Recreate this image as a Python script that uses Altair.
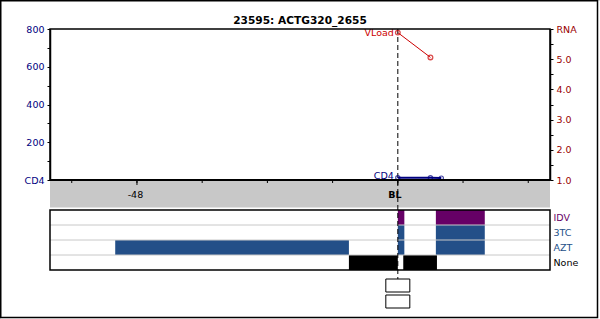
import altair as alt
import pandas as pd

# ---------------- data ----------------
TITLE = "23595: ACTG320_2655"
X_DOMAIN = [-64, 28]
X_TICKS = [-60, -48, -36, -24, -12, 0, 12, 24]
X_TICK_VALUES_LABELED = [-48, 0]
X_TICK_TEXT = ["-48", "BL"]
BASELINE = 0

CD4_WEEK = [0, 6, 8]
CD4_VALUE = [12, 12, 10]
CD4_NAME = "CD4"

RNA_WEEK = [0, 6]
RNA_VALUE = [5.88, 5.06]
RNA_NAME = "VLoad"

CD4_TICKS = [0, 100, 200, 300, 400, 500, 600, 700, 800]
RNA_TICKS = [1.0, 1.5, 2.0, 2.5, 3.0, 3.5, 4.0, 4.5, 5.0, 5.5, 6.0]

DRUGS = ["IDV", "3TC", "AZT", "None"]
DRUG_COLORS = ["#660066", "#234f88", "#234f88", "#000000"]
DRUG_LABEL_COLORS = ["#660066", "#234f88", "#234f88", "#000000"]

SEG_DRUG = ["AZT", "None", "IDV", "3TC", "AZT", "None", "IDV", "3TC", "AZT"]
SEG_START = [-52, -9, 0, 0, 0, 1.0, 7, 7, 7]
SEG_END = [-9, 0, 1.2, 1.2, 1.2, 7.2, 16, 16, 16]

BOXES = ["1", "2"]

# ---------------- layout (pixels) ----------------
W, H = 600, 319
PX_LEFT, PX_RIGHT = 50, 550
TOP_Y0, TOP_Y1 = 29, 180
BAND_Y1 = 207.5
DRUG_Y0, DRUG_Y1 = 210, 270
BOX_Y0, BOX_Y1 = 279, 308
FONT = "DejaVu Sans"
FS = 9.5

NAVY = "#000080"
DARKRED = "#990000"
RED = "#cc0000"

xs = alt.Scale(domain=X_DOMAIN, range=[PX_LEFT, PX_RIGHT])

# ---------------- frames / decorations ----------------
one = pd.DataFrame({"k": [0]})

outer = alt.Chart(one).mark_rect(fill=None, stroke="black", strokeWidth=1.5).encode(
    x=alt.value(0.75), x2=alt.value(597.5), y=alt.value(0.75), y2=alt.value(317.5)
)
band = alt.Chart(one).mark_rect(fill="#c8c8c8").encode(
    x=alt.value(PX_LEFT), x2=alt.value(PX_RIGHT), y=alt.value(TOP_Y1), y2=alt.value(BAND_Y1)
)
drug_bg = alt.Chart(one).mark_rect(fill="white").encode(
    x=alt.value(PX_LEFT), x2=alt.value(PX_RIGHT), y=alt.value(DRUG_Y0), y2=alt.value(DRUG_Y1)
)
drug_frame = alt.Chart(one).mark_rect(fill=None, stroke="black", strokeWidth=1.5).encode(
    x=alt.value(PX_LEFT), x2=alt.value(PX_RIGHT), y=alt.value(DRUG_Y0), y2=alt.value(DRUG_Y1)
)
top_frame = alt.Chart(one).mark_rect(fill=None, stroke="black", strokeWidth=1.5).encode(
    x=alt.value(PX_LEFT), x2=alt.value(PX_RIGHT), y=alt.value(TOP_Y0), y2=alt.value(TOP_Y1)
)

# ---------------- x axis (ticks & labels drawn through the x scale) ----------------
dom_df = pd.DataFrame({"a": [X_DOMAIN[0]], "b": [X_DOMAIN[1]]})
x_domain_line = alt.Chart(dom_df).mark_rule(color="black", strokeWidth=2).encode(
    x=alt.X("a:Q", scale=xs, axis=None), x2="b:Q", y=alt.value(TOP_Y1)
)
tick_df = pd.DataFrame({"t": X_TICKS})
x_ticks = alt.Chart(tick_df).mark_rule(color="black", strokeWidth=1).encode(
    x=alt.X("t:Q", scale=xs, axis=None), y=alt.value(TOP_Y1), y2=alt.value(TOP_Y1 + 3)
)
lab_df = pd.DataFrame({"t": X_TICK_VALUES_LABELED, "txt": X_TICK_TEXT})
x_major = alt.Chart(lab_df).mark_rule(color="black", strokeWidth=1).encode(
    x=alt.X("t:Q", scale=xs, axis=None), y=alt.value(TOP_Y1), y2=alt.value(TOP_Y1 + 5)
)
x_labels = alt.Chart(lab_df).transform_filter(alt.datum.t != BASELINE).mark_text(
    baseline="middle", align="center", dx=-1.5, font=FONT, fontSize=FS, color="black"
).encode(
    x=alt.X("t:Q", scale=xs, axis=None), y=alt.value(194.5), text="txt:N",
)
x_label_bl = alt.Chart(lab_df).transform_filter(alt.datum.t == BASELINE).mark_text(
    baseline="middle", align="center", dx=-3, font=FONT, fontSize=FS, fontWeight="bold", color="black"
).encode(
    x=alt.X("t:Q", scale=xs, axis=None), y=alt.value(194.5), text="txt:N",
)

# ---------------- CD4 ----------------
cd4_df = pd.DataFrame({"week": CD4_WEEK, "cd4": CD4_VALUE})
cd4_lab = pd.DataFrame({"week": [CD4_WEEK[0]], "cd4": [CD4_VALUE[0]], "name": [CD4_NAME]})
cd4_scale = alt.Scale(domain=[CD4_TICKS[0], CD4_TICKS[-1]], range=[TOP_Y1, TOP_Y0])
cd4_axis = alt.Axis(
    orient="left", offset=-PX_LEFT, values=CD4_TICKS,
    labelExpr="datum.value == 0 ? 'CD4' : (datum.value % 200 == 0 ? datum.label : '')",
    title=None, grid=False, domainColor="black", domainWidth=1.5, tickColor="black",
    tickSize=3, labelPadding=3, labelFont=FONT, labelFontSize=FS, labelColor=NAVY,
    labelFlush=False, labelOverlap=False, zindex=1,
)
cd4_line = alt.Chart(cd4_df).mark_line(color=NAVY, strokeWidth=2).encode(
    x=alt.X("week:Q", scale=xs, axis=None),
    y=alt.Y("cd4:Q", scale=cd4_scale, axis=cd4_axis),
)
cd4_pts = alt.Chart(cd4_df).mark_point(shape="circle", filled=False, color=NAVY, size=18, strokeWidth=1.2).encode(
    x=alt.X("week:Q", scale=xs, axis=None),
    y=alt.Y("cd4:Q", scale=cd4_scale, axis=None),
)
cd4_txt = alt.Chart(cd4_lab).mark_text(align="right", baseline="middle", dx=-4, dy=-2, font=FONT, fontSize=FS, color=NAVY).encode(
    x=alt.X("week:Q", scale=xs, axis=None),
    y=alt.Y("cd4:Q", scale=cd4_scale, axis=None),
    text="name:N",
)

# ---------------- RNA ----------------
rna_df = pd.DataFrame({"week": RNA_WEEK, "rna": RNA_VALUE})
rna_lab = pd.DataFrame({"week": [RNA_WEEK[0]], "rna": [RNA_VALUE[0]], "name": [RNA_NAME]})
rna_scale = alt.Scale(domain=[RNA_TICKS[0], RNA_TICKS[-1]], range=[TOP_Y1, TOP_Y0])
rna_axis = alt.Axis(
    orient="right", offset=-(W - PX_RIGHT), values=RNA_TICKS,
    labelExpr="datum.value == 6 ? 'RNA' : (datum.value % 1 == 0 ? format(datum.value, '.1f') : '')",
    title=None, grid=False, domainColor="black", domainWidth=1.5, tickColor="black",
    tickSize=3, labelPadding=3, labelFont=FONT, labelFontSize=FS, labelColor=DARKRED,
    labelFlush=False, labelOverlap=False, zindex=1,
)
rna_line = alt.Chart(rna_df).mark_line(color=RED, strokeWidth=1).encode(
    x=alt.X("week:Q", scale=xs, axis=None),
    y=alt.Y("rna:Q", scale=rna_scale, axis=rna_axis),
)
rna_pts = alt.Chart(rna_df).mark_point(shape="circle", filled=False, color=RED, size=22, strokeWidth=1.3).encode(
    x=alt.X("week:Q", scale=xs, axis=None),
    y=alt.Y("rna:Q", scale=rna_scale, axis=None),
)
rna_txt = alt.Chart(rna_lab).mark_text(align="right", baseline="middle", dx=-4, font=FONT, fontSize=FS, color=RED).encode(
    x=alt.X("week:Q", scale=xs, axis=None),
    y=alt.Y("rna:Q", scale=rna_scale, axis=None),
    text="name:N",
)

# ---------------- drugs ----------------
seg_df = pd.DataFrame({"drug": SEG_DRUG, "start": SEG_START, "end": SEG_END})
grid_df = pd.DataFrame({"drug": DRUGS[1:], "start": [X_DOMAIN[0]] * 3, "end": [X_DOMAIN[1]] * 3})
drug_scale = alt.Scale(domain=DRUGS, range=[DRUG_Y0, DRUG_Y1], paddingInner=0, paddingOuter=0)
drug_color_expr = " : ".join(
    f"datum.value == '{d}' ? '{c}'" for d, c in zip(DRUGS, DRUG_LABEL_COLORS)
) + " : 'black'"
drug_axis = alt.Axis(
    orient="right", offset=-(W - PX_RIGHT), title=None, domain=False, ticks=False, grid=False,
    labelPadding=3, labelFont=FONT, labelFontSize=FS, labelColor={"expr": drug_color_expr}, zindex=1,
)
bars = alt.Chart(seg_df).mark_rect().encode(
    x=alt.X("start:Q", scale=xs, axis=None),
    x2="end:Q",
    y=alt.Y("drug:N", scale=drug_scale, axis=drug_axis),
    color=alt.Color("drug:N", scale=alt.Scale(domain=DRUGS, range=DRUG_COLORS), legend=None),
)
grid = alt.Chart(grid_df).mark_rule(color="#c8c8c8", strokeWidth=1).encode(
    x=alt.X("start:Q", scale=xs, axis=None),
    x2="end:Q",
    y=alt.Y("drug:N", scale=drug_scale, axis=None, bandPosition=0),
)

# ---------------- baseline marker & boxes ----------------
bl_df = pd.DataFrame({"week": [BASELINE]})
bl_rule = alt.Chart(bl_df).mark_rule(color="black", strokeDash=[5, 3], strokeWidth=1).encode(
    x=alt.X("week:Q", scale=xs, axis=None), y=alt.value(TOP_Y0), y2=alt.value(BOX_Y0)
)
box_df = pd.DataFrame({"week": [BASELINE] * len(BOXES), "box": BOXES})
boxes = alt.Chart(box_df).mark_rect(width=24, fill="white", stroke="black", strokeWidth=1).encode(
    x=alt.X("week:Q", scale=xs, axis=None),
    y=alt.Y("box:N", scale=alt.Scale(domain=BOXES, range=[BOX_Y0, BOX_Y1], paddingInner=0.1875, paddingOuter=0), axis=None),
)

chart = alt.layer(
    outer, band, drug_bg, bars, grid, drug_frame, bl_rule,
    cd4_line, cd4_pts, cd4_txt, rna_line, rna_pts, rna_txt, boxes, top_frame,
    x_domain_line, x_ticks, x_major, x_labels, x_label_bl,
).resolve_scale(
    y="independent"
).properties(
    width=W, height=H, padding=0, autosize=alt.AutoSizeParams(type="none"),
    title=alt.Title(TITLE, offset=-35, frame="group", anchor="middle", baseline="alphabetic",
                    font=FONT, fontWeight="bold", fontSize=10.6, color="black"),
).configure_view(stroke=None).configure(background="white")

chart.save("out.html", embed_options={"renderer": "svg", "actions": False})
